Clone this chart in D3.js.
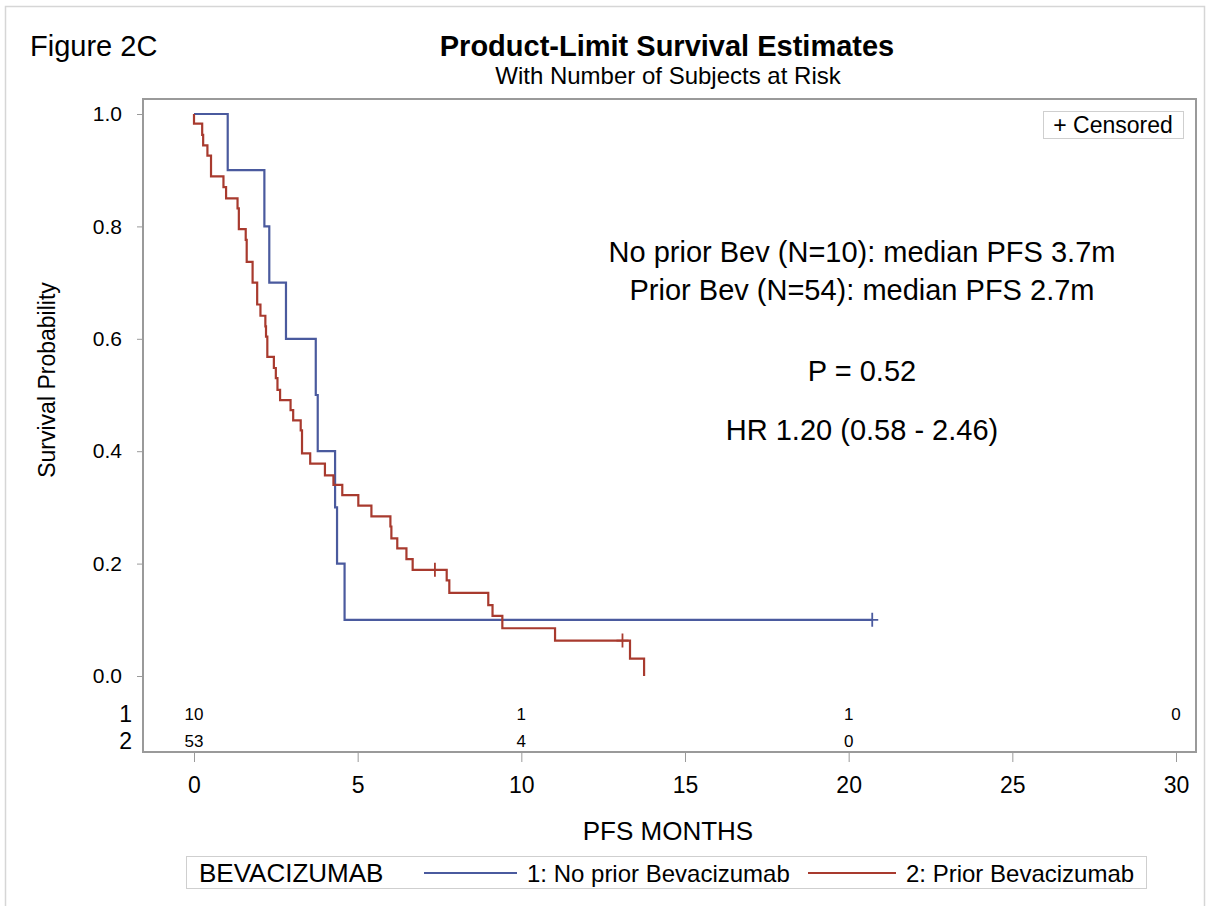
<!DOCTYPE html>
<html>
<head>
<meta charset="utf-8">
<script src="https://cdn.jsdelivr.net/npm/d3@7"></script>
<style>
  body { margin: 0; background: #fff; }
  text { font-family: "Liberation Sans", Arial, sans-serif; fill: #000; }
</style>
</head>
<body>
<svg id="chart" width="1213" height="906"></svg>
<script>
// survival steps: [months, survival after the step]
const noPriorSteps = [[0, 1.0], [1.03, 0.9], [2.15, 0.8], [2.30, 0.7], [2.81, 0.6], [3.72, 0.5],
  [3.78, 0.4], [4.31, 0.3], [4.37, 0.2], [4.60, 0.1], [20.72, 0.1]];
const noPriorCensored = [[20.72, 0.1]];

const priorSteps = [[0, 1.0], [0.0, 0.983], [0.25, 0.963], [0.28, 0.944], [0.41, 0.926], [0.52, 0.889],
  [0.90, 0.870], [0.98, 0.850], [1.33, 0.832], [1.37, 0.795], [1.58, 0.776], [1.61, 0.737],
  [1.79, 0.700], [1.93, 0.661], [2.03, 0.641], [2.18, 0.622], [2.20, 0.604], [2.24, 0.568],
  [2.44, 0.548], [2.50, 0.530], [2.55, 0.509], [2.63, 0.491], [2.95, 0.473], [3.03, 0.455],
  [3.26, 0.437], [3.30, 0.396], [3.55, 0.378], [4.00, 0.357], [4.26, 0.340], [4.53, 0.322],
  [5.02, 0.303], [5.42, 0.284], [6.00, 0.266], [6.03, 0.245], [6.21, 0.227], [6.49, 0.208],
  [6.68, 0.189], [7.72, 0.170], [7.80, 0.148], [8.99, 0.126], [9.12, 0.107], [9.42, 0.085],
  [11.03, 0.063], [13.32, 0.031], [13.75, 0.0]];
const priorCensored = [[7.36, 0.189], [13.09, 0.063]];

const xTicks = [0, 5, 10, 15, 20, 25, 30];
const yTicks = [0.0, 0.2, 0.4, 0.6, 0.8, 1.0];
const riskTimes = [0, 10, 20, 30];
const riskNoPrior = [10, 1, 1, 0];
const riskPrior = [53, 4, 0, null];

const annotations = ["No prior Bev (N=10): median PFS 3.7m", "Prior Bev (N=54): median PFS 2.7m",
  "P = 0.52", "HR 1.20 (0.58 - 2.46)"];

const blue = "#4a5a9e", red = "#a83a2e";

const svg = d3.select("#chart");

const x = d3.scaleLinear().domain([0, 30]).range([194, 1176]);
const y = d3.scaleLinear().domain([0, 1]).range([676, 114]);

// outer border
svg.append("rect").attr("x", 5.5).attr("y", 6.5).attr("width", 1199).attr("height", 920)
  .attr("fill", "none").attr("stroke", "#d6d6d6").attr("stroke-width", 1.5);

svg.append("text").attr("x", 30).attr("y", 56).style("font-size", "29px").text("Figure 2C");
svg.append("text").attr("x", 667).attr("y", 56).attr("text-anchor", "middle")
  .style("font-size", "29px").style("font-weight", "bold").text("Product-Limit Survival Estimates");
svg.append("text").attr("x", 668).attr("y", 84).attr("text-anchor", "middle")
  .style("font-size", "24px").text("With Number of Subjects at Risk");

// plot frame
svg.append("rect").attr("x", 143).attr("y", 99).attr("width", 1053).attr("height", 653)
  .attr("fill", "none").attr("stroke", "#9a9a9a").attr("stroke-width", 2);

// y axis
const yAxis = d3.axisLeft(y).tickValues(yTicks).tickFormat(d3.format(".1f")).tickSize(6).tickPadding(15);
const gy = svg.append("g").attr("transform", "translate(143,0)").call(yAxis);
gy.select(".domain").remove();
gy.selectAll("line").attr("stroke", "#9a9a9a");
gy.selectAll("text").style("font-size", "21px").attr("font-family", null);

svg.append("text").attr("transform", "translate(55,380) rotate(-90)").attr("text-anchor", "middle")
  .style("font-size", "23px").text("Survival Probability");

// x axis
const xAxis = d3.axisBottom(x).tickValues(xTicks).tickSize(10).tickPadding(15);
const gx = svg.append("g").attr("transform", "translate(0,752)").call(xAxis);
gx.select(".domain").remove();
gx.selectAll("line").attr("stroke", "#9a9a9a");
gx.selectAll("text").style("font-size", "23px").attr("font-family", null);

svg.append("text").attr("x", 668).attr("y", 840).attr("text-anchor", "middle")
  .style("font-size", "26px").text("PFS MONTHS");

// survival curves
const line = d3.line().curve(d3.curveStepAfter).x(d => x(d[0])).y(d => y(d[1]));
svg.append("path").datum(noPriorSteps).attr("d", line)
  .attr("fill", "none").attr("stroke", blue).attr("stroke-width", 2.2);
svg.append("path").datum(priorSteps).attr("d", line)
  .attr("fill", "none").attr("stroke", red).attr("stroke-width", 2.2);

function censorMarks(data, color) {
  svg.append("g").selectAll("path").data(data).join("path")
    .attr("d", d => `M${x(d[0]) - 6},${y(d[1])}h12M${x(d[0])},${y(d[1]) - 7}v14`)
    .attr("stroke", color).attr("stroke-width", 1.8).attr("fill", "none");
}
censorMarks(noPriorCensored, blue);
censorMarks(priorCensored, red);

// censored legend
svg.append("rect").attr("x", 1043.5).attr("y", 111.5).attr("width", 140).attr("height", 27)
  .attr("fill", "#fff").attr("stroke", "#cfcfcf");
svg.append("text").attr("x", 1113).attr("y", 133).attr("text-anchor", "middle")
  .style("font-size", "23px").text("+ Censored");

// annotations
const annY = [262, 300, 381, 440];
svg.append("g").selectAll("text").data(annotations).join("text")
  .attr("x", 862).attr("y", (d, i) => annY[i]).attr("text-anchor", "middle")
  .style("font-size", "29px").text(d => d);

// number at risk
svg.append("text").attr("x", 132).attr("y", 722).attr("text-anchor", "end").style("font-size", "23px").text("1");
svg.append("text").attr("x", 132).attr("y", 749).attr("text-anchor", "end").style("font-size", "23px").text("2");
svg.append("g").selectAll("text").data(riskNoPrior).join("text")
  .attr("x", (d, i) => x(riskTimes[i])).attr("y", 720).attr("text-anchor", "middle")
  .style("font-size", "17px").text(d => d);
svg.append("g").selectAll("text").data(riskPrior.filter(d => d !== null)).join("text")
  .attr("x", (d, i) => x(riskTimes[i])).attr("y", 747).attr("text-anchor", "middle")
  .style("font-size", "17px").text(d => d);

// group legend
svg.append("rect").attr("x", 186.5).attr("y", 856.5).attr("width", 960).attr("height", 32)
  .attr("fill", "#fff").attr("stroke", "#cfcfcf");
svg.append("text").attr("x", 199).attr("y", 882).style("font-size", "26px").text("BEVACIZUMAB");
svg.append("line").attr("x1", 424).attr("x2", 517).attr("y1", 873).attr("y2", 873)
  .attr("stroke", blue).attr("stroke-width", 2);
svg.append("text").attr("x", 527).attr("y", 882).style("font-size", "24px").text("1: No prior Bevacizumab");
svg.append("line").attr("x1", 808).attr("x2", 896).attr("y1", 873).attr("y2", 873)
  .attr("stroke", red).attr("stroke-width", 2);
svg.append("text").attr("x", 906).attr("y", 882).style("font-size", "24px").text("2: Prior Bevacizumab");
</script>
</body>
</html>
